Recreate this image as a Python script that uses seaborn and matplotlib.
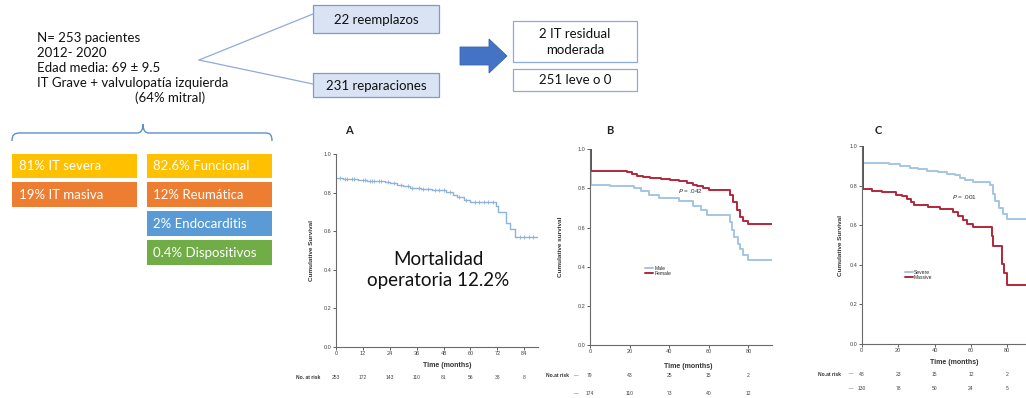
import numpy as np
import pandas as pd
import matplotlib
matplotlib.use("Agg")
import matplotlib.pyplot as plt
from matplotlib.patches import Rectangle, Polygon, PathPatch
from matplotlib.path import Path
from matplotlib.transforms import blended_transform_factory
import seaborn as sns

# ---------------- data ----------------
# Panel A: overall survival (Kaplan-Meier)
a_time = [0, 3, 10, 14, 22, 24, 27, 30, 33, 38, 43, 49, 52, 54, 57, 60, 71.5, 72.5, 76, 77.5, 80, 90]
a_surv = [0.876, 0.87, 0.865, 0.86, 0.855, 0.848, 0.84, 0.833, 0.826, 0.82, 0.812, 0.803, 0.79, 0.778, 0.762, 0.753,
          0.728, 0.70, 0.64, 0.613, 0.572, 0.572]
a_censor = [2, 4, 5, 7, 8, 12, 13, 15, 16, 17, 19, 20, 23, 26, 29, 32, 34, 37, 39, 41, 44, 46, 48, 51, 55, 58,
            62, 64, 66, 68, 70, 82, 84, 86, 88]
a_ticks = [0, 12, 24, 36, 48, 60, 72, 84]
a_at_risk = [253, 172, 143, 110, 81, 56, 38, 8]

# Panel B: survival by sex
b_male_time = [0, 0.5, 10, 22, 26, 30, 35, 45, 52, 56, 59, 70.5, 71.5, 72.5, 74.5, 76, 77.5, 80, 92]
b_male_surv = [1.0, 0.817, 0.81, 0.8, 0.785, 0.768, 0.75, 0.735, 0.71, 0.69, 0.665, 0.63, 0.59, 0.55, 0.515,
               0.49, 0.46, 0.435, 0.435]
b_female_time = [0, 0.5, 10, 18.5, 21, 23.5, 27, 30.5, 36, 40.5, 45, 49, 52, 54, 57, 60, 70.7, 72.4, 74, 75.8,
                 77.4, 80, 92]
b_female_surv = [1.0, 0.89, 0.887, 0.883, 0.875, 0.866, 0.86, 0.853, 0.847, 0.842, 0.837, 0.83, 0.82, 0.81, 0.8,
                 0.79, 0.765, 0.73, 0.69, 0.656, 0.635, 0.62, 0.62]
b_labels = ["Male", "Female"]
b_ticks = [0, 20, 40, 60, 80]
b_at_risk_1 = [79, 43, 25, 15, 2]
b_at_risk_2 = [174, 110, 73, 40, 12]
b_pvalue = ".042"

# Panel C: survival by regurgitation grade
c_severe_time = [0, 0.5, 15, 21, 26.5, 31, 36, 42, 47, 51, 54, 57, 61, 70.5, 72, 73.5, 75.5, 77.5, 80, 95]
c_severe_surv = [1.0, 0.913, 0.908, 0.9, 0.89, 0.882, 0.875, 0.868, 0.86, 0.852, 0.84, 0.83, 0.817, 0.803, 0.76,
                 0.72, 0.685, 0.655, 0.63, 0.63]
c_massive_time = [0, 0.5, 5.5, 11, 19, 22, 24.7, 27, 29, 36.6, 43, 50, 53, 55.8, 58, 61.3, 71.4, 72.3, 77, 78,
                  79.6, 95]
c_massive_surv = [1.0, 0.782, 0.775, 0.766, 0.755, 0.745, 0.73, 0.715, 0.703, 0.694, 0.68, 0.665, 0.645, 0.625,
                  0.605, 0.59, 0.545, 0.493, 0.405, 0.36, 0.30, 0.30]
c_labels = ["Severe", "Massive"]
c_ticks = [0, 20, 40, 60, 80]
c_at_risk_1 = [48, 23, 15, 12, 2]
c_at_risk_2 = [130, 78, 50, 24, 5]
c_pvalue = ".001"

# Cohort summary and flow
cohort_lines = ["N= 253 pacientes", "2012- 2020", "Edad media: 69 \u00b1 9.5",
                "IT Grave + valvulopat\u00eda izquierda"]
cohort_note = "(64% mitral)"
surgery_labels = ["22 reemplazos", "231 reparaciones"]
result_labels = ["2 IT residual\nmoderada", "251 leve o 0"]
grade_labels = ["81% IT severa", "19% IT masiva"]
etiology_labels = ["82.6% Funcional", "12% Reum\u00e1tica", "2% Endocarditis", "0.4% Dispositivos"]
mortality_text = "Mortalidad\noperatoria 12.2%"

# ---------------- style ----------------
sns.set_style("white")
plt.rcParams["font.family"] = ["Lato", "DejaVu Sans"]

W, H = 1026, 398
fig = plt.figure(figsize=(W / 100, H / 100), dpi=100)
fig.patch.set_facecolor("white")

bg = fig.add_axes([0, 0, 1, 1], zorder=0)
bg.set_xlim(0, W)
bg.set_ylim(H, 0)
bg.axis("off")

BOX_EDGE = "#8faadc"
LIGHT_BLUE = "#a3c6e4"
DARK_RED = "#b3263a"
KM_FONT = "Liberation Sans"

# ---- cohort text and branches ----
for i, line in enumerate(cohort_lines):
    bg.text(37, 38 + 15 * i, line, fontsize=9.5, va="center", ha="left", color="#111111")
bg.text(135, 98, cohort_note, fontsize=9.5, va="center", ha="left", color="#111111")

bg.plot([199, 313], [60, 14], color=BOX_EDGE, lw=0.9)
bg.plot([199, 313], [60, 84], color=BOX_EDGE, lw=0.9)

for (y0, y1), lab in zip([(5, 33), (73, 97)], surgery_labels):
    bg.add_patch(Rectangle((313, y0), 126, y1 - y0, facecolor="#dae3f3", edgecolor="#7b9bd0", lw=0.9))
    bg.text(376, (y0 + y1) / 2 + 0.5, lab, fontsize=9.5, ha="center", va="center", color="#111111")

# ---- arrow ----
bg.add_patch(Polygon([(460, 47), (489, 47), (489, 39), (507, 56), (489, 73), (489, 65), (460, 65)],
                     closed=True, facecolor="#4472c4", edgecolor="#3a64b0", lw=0.6))

for (y0, y1), lab in zip([(21, 62), (69, 91)], result_labels):
    bg.add_patch(Rectangle((513, y0), 124, y1 - y0, facecolor="white", edgecolor=BOX_EDGE, lw=0.9))
    bg.text(575, (y0 + y1) / 2 + 0.5, lab, fontsize=9.5, ha="center", va="center", color="#111111",
            linespacing=1.35)

# ---- brace ----
verts = [(12, 141), (12, 135), (14, 133), (20, 133),
         (137, 133), (141, 133), (143, 130), (143, 124),
         (143, 130), (145, 133), (149, 133),
         (266, 133), (270, 133), (272, 135), (272, 141)]
codes = [Path.MOVETO, Path.CURVE4, Path.CURVE4, Path.CURVE4,
         Path.LINETO, Path.CURVE4, Path.CURVE4, Path.CURVE4,
         Path.CURVE4, Path.CURVE4, Path.CURVE4,
         Path.LINETO, Path.CURVE4, Path.CURVE4, Path.CURVE4]
bg.add_patch(PathPatch(Path(verts, codes), facecolor="none", edgecolor="#5b8fd0", lw=1.0))

# ---- coloured category boxes ----
row_y = [(154, 178), (182, 207), (211, 236), (240, 265)]
row_col = ["#ffc000", "#ed7d31", "#5b9bd5", "#70ad47"]
for i, lab in enumerate(grade_labels):
    y0, y1 = row_y[i]
    bg.add_patch(Rectangle((12, y0), 125, y1 - y0, facecolor=row_col[i], edgecolor="none"))
    bg.text(19, (y0 + y1) / 2 + 0.5, lab, fontsize=9.5, ha="left", va="center", color="white")
for i, lab in enumerate(etiology_labels):
    y0, y1 = row_y[i]
    bg.add_patch(Rectangle((147, y0), 125, y1 - y0, facecolor=row_col[i], edgecolor="none"))
    bg.text(153, (y0 + y1) / 2 + 0.5, lab, fontsize=9.5, ha="left", va="center", color="white")

# ---- panel letters and mortality note ----
for x, letter in [(349, "A"), (610, "B"), (878, "C")]:
    bg.text(x, 130, letter, fontsize=8, fontweight="bold", ha="center", va="center", color="#222222")
bg.text(438, 270, mortality_text, fontsize=13.5, ha="center", va="center", color="#111111",
        linespacing=1.25)


# ---------------- Kaplan-Meier panels ----------------
def px_axes(left, right, top, bottom):
    return fig.add_axes([left / W, 1 - bottom / H, (right - left) / W, (bottom - top) / H], zorder=2)


def style_km(ax, xmax, ticks, ylabel, ylab_x, xlab_x, xlab_y):
    ax.set_facecolor("none")
    ax.set_xlim(0, xmax)
    ax.set_ylim(0, 1.0)
    ax.set_xticks(ticks)
    ax.set_xticklabels([str(t) for t in ticks], fontfamily=KM_FONT)
    yt = np.round(np.arange(0, 1.01, 0.2), 1)
    ax.set_yticks(yt)
    ax.set_yticklabels([f"{v:.1f}" for v in yt], fontfamily=KM_FONT)
    sns.despine(ax=ax)
    for side in ["left", "bottom"]:
        ax.spines[side].set_color("#6a6a6a")
        ax.spines[side].set_linewidth(0.8)
    ax.tick_params(length=2.2, width=0.6, pad=1, labelsize=4, colors="#444444", left=True, bottom=True)
    ax.set_ylabel(ylabel, fontsize=4.6, fontweight="bold", fontfamily=KM_FONT, color="#333333")
    ax.yaxis.set_label_coords(ylab_x, 0.5)
    ax.set_xlabel("Time (months)", fontsize=5, fontweight="bold", fontfamily=KM_FONT, color="#333333")
    ax.xaxis.set_label_coords(xlab_x, xlab_y)


def at_risk(ax, ticks, rows, ys, label, label_x, dash_x=None):
    tr = blended_transform_factory(ax.transData, ax.transAxes)
    trl = blended_transform_factory(fig.transFigure, ax.transAxes)
    ax.text(label_x / W, ys[0], label, transform=trl, fontsize=3.6, fontweight="bold", fontfamily=KM_FONT,
            ha="center", va="center", color="#333333", clip_on=False)
    for row, y in zip(rows, ys):
        if dash_x is not None:
            ax.text(dash_x / W, y, "__", transform=trl, fontsize=3.6, fontfamily=KM_FONT,
                    ha="center", va="bottom", color="#555555", clip_on=False)
        for t, n in zip(ticks, row):
            ax.text(t, y, str(n), transform=tr, fontsize=3.6, fontfamily=KM_FONT, ha="center", va="center",
                    color="#444444", clip_on=False)


# Panel A
axA = px_axes(336, 336 + 90 * 2.241, 154, 347)
sns.lineplot(x=a_time, y=a_surv, ax=axA, drawstyle="steps-post", estimator=None, sort=False,
             color="#8db3da", linewidth=1.0)
a_idx = np.searchsorted(a_time, a_censor, side="right") - 1
sns.scatterplot(x=a_censor, y=np.array(a_surv)[a_idx], ax=axA, marker="|", s=6, color="#8db3da",
                linewidth=0.6)
style_km(axA, 90, a_ticks, "Cumulative Survival", -0.11, 0.55, -0.078)
at_risk(axA, a_ticks, [a_at_risk], [-0.16], "No. at risk", 308)

# Panel B
axB = px_axes(590, 590 + 92 * 1.98, 149.3, 345)
df_b = pd.concat([
    pd.DataFrame({"Time": b_male_time, "Survival": b_male_surv, "Group": b_labels[0]}),
    pd.DataFrame({"Time": b_female_time, "Survival": b_female_surv, "Group": b_labels[1]}),
])
sns.lineplot(data=df_b, x="Time", y="Survival", hue="Group", palette=[LIGHT_BLUE, DARK_RED], ax=axB,
             drawstyle="steps-post", estimator=None, sort=False, linewidth=1.4)
style_km(axB, 92, b_ticks, "Cumulative survival", -0.148, 0.54, -0.092)
axB.legend(loc="center left", bbox_to_anchor=(0.29, 0.38), frameon=False, fontsize=3.6, handlelength=1.6,
           handletextpad=0.2, labelspacing=0.05, borderpad=0, prop={"family": KM_FONT, "size": 3.6})
axB.text(44.4, 0.787, r"$P$ = " + b_pvalue, fontsize=4.6, fontfamily=KM_FONT, ha="left", va="center",
         color="#333333")
at_risk(axB, b_ticks, [b_at_risk_1, b_at_risk_2], [-0.158, -0.25], "No.at risk", 557, dash_x=576)

# Panel C
axC = px_axes(861.7, 861.7 + 95 * 1.82, 146, 344)
df_c = pd.concat([
    pd.DataFrame({"Time": c_severe_time, "Survival": c_severe_surv, "Group": c_labels[0]}),
    pd.DataFrame({"Time": c_massive_time, "Survival": c_massive_surv, "Group": c_labels[1]}),
])
sns.lineplot(data=df_c, x="Time", y="Survival", hue="Group", palette=[LIGHT_BLUE, DARK_RED], ax=axC,
             drawstyle="steps-post", estimator=None, sort=False, linewidth=1.4)
style_km(axC, 95, c_ticks, "Cumulative Survival", -0.11, 0.534, -0.076)
axC.legend(loc="center left", bbox_to_anchor=(0.235, 0.35), frameon=False, handlelength=1.6,
           handletextpad=0.2, labelspacing=0.05, borderpad=0, prop={"family": KM_FONT, "size": 3.6})
axC.text(49.6, 0.742, r"$P$ = " + c_pvalue, fontsize=4.6, fontfamily=KM_FONT, ha="left", va="center",
         color="#333333")
at_risk(axC, c_ticks, [c_at_risk_1, c_at_risk_2], [-0.152, -0.227], "No.at risk", 830, dash_x=851)

fig.savefig("out.png", dpi=100, facecolor="white")
